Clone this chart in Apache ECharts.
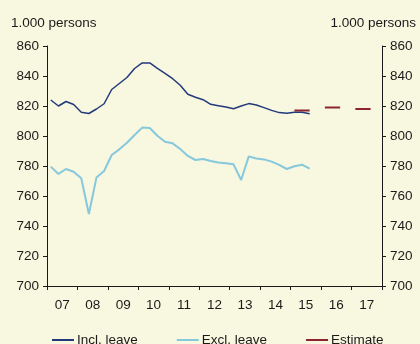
<!DOCTYPE html>
<html>
<head>
<meta charset="utf-8">
<script src="https://cdn.jsdelivr.net/npm/echarts@6/dist/echarts.min.js"></script>
<style>
  html, body { margin: 0; padding: 0; background: #f8f7e0; }
  #chart { width: 420px; height: 344px; }
</style>
</head>
<body>
<div id="chart"></div>
<script>
// years on the axis, data is quarterly from 2007Q1
var years = ['07', '08', '09', '10', '11', '12', '13', '14', '15', '16', '17']
var inclLeave = [824, 820, 823, 821, 815.8, 815, 818, 821.5, 831, 835, 839, 845, 848.7, 848.7,
  845.1, 841.8, 838.2, 833.8, 827.8, 825.8, 824.2, 821.1, 820.2, 819.3, 818.2, 820, 821.6,
  820.7, 818.9, 817.1, 815.6, 815.1, 815.8, 815.8, 814.9]
var exclLeave = [779.6, 774.7, 778, 776.2, 771.8, 748, 772.4, 776.7, 787.3, 791.1, 795.5, 800.7,
  805.6, 805.3, 800.2, 796.2, 795.1, 791.3, 786.7, 784, 784.7, 783.3, 782.4, 781.8, 781.1,
  770.7, 786.4, 785, 784.4, 782.9, 780.7, 778, 779.8, 780.9, 778.2]
// yearly estimates 2015-2017
var estimateYears = [2015, 2016, 2017]
var estimate = [817, 819, 818]

;(function () {
  var myChart = echarts.init(document.getElementById('chart'))

  var quarters = []
  years.forEach(function (y) {
    for (var q = 1; q <= 4; q++) quarters.push(y + 'Q' + q)
  })
  // estimate drawn over Q1-Q3 of each year, gap at Q4
  var estData = quarters.map(function () { return null })
  estimateYears.forEach(function (yr, k) {
    var start = (yr - 2007) * 4
    estData[start] = estimate[k]
    estData[start + 1] = estimate[k]
    estData[start + 2] = estimate[k]
  })

  var fam = 'Liberation Sans, Arial, sans-serif'
  var txtColor = '#1a1a1a'
  var fs = 13.5

  var yAxisBase = {
    type: 'value',
    min: 700,
    max: 860,
    interval: 20,
    splitLine: { show: false },
    axisLine: { show: true, lineStyle: { color: txtColor, width: 1 } },
    axisTick: { show: true, length: 4, lineStyle: { color: txtColor } },
    axisLabel: { color: txtColor, fontSize: fs, fontFamily: fam, margin: 8 }
  }

  var option = {
    backgroundColor: '#f8f7e0',
    animation: false,
    grid: { left: 47, right: 38, top: 46, bottom: 58 },
    graphic: [
      { type: 'text', left: 11, top: 16, style: { text: '1.000 persons', fill: txtColor, font: fs + 'px ' + fam } },
      { type: 'text', right: 4, top: 16, style: { text: '1.000 persons', fill: txtColor, font: fs + 'px ' + fam } }
    ],
    legend: {
      bottom: -8,
      left: 47,
      itemGap: 39,
      itemWidth: 22,
      itemHeight: 2,
      icon: 'rect',
      textStyle: { color: txtColor, fontSize: fs, fontFamily: fam, padding: [0, 0, 0, -2] },
      data: ['Incl. leave', 'Excl. leave', 'Estimate']
    },
    xAxis: [
      {
        type: 'category',
        data: quarters,
        boundaryGap: true,
        show: false
      },
      {
        type: 'category',
        data: years,
        boundaryGap: true,
        position: 'bottom',
        axisLine: { show: true, lineStyle: { color: txtColor, width: 1 } },
        axisTick: { show: true, length: 4, lineStyle: { color: txtColor } },
        axisLabel: { color: txtColor, fontSize: fs, fontFamily: fam, margin: 12 }
      }
    ],
    yAxis: [
      Object.assign({}, yAxisBase, { position: 'left' }),
      Object.assign({}, yAxisBase, { position: 'right' })
    ],
    series: [
      {
        name: 'Incl. leave',
        type: 'line',
        xAxisIndex: 0,
        data: inclLeave,
        symbol: 'none',
        color: '#23397a',
        lineStyle: { width: 1.5, color: '#23397a' }
      },
      {
        name: 'Excl. leave',
        type: 'line',
        xAxisIndex: 0,
        data: exclLeave,
        symbol: 'none',
        color: '#86c8dc',
        lineStyle: { width: 2, color: '#86c8dc' }
      },
      {
        name: 'Estimate',
        type: 'line',
        xAxisIndex: 0,
        data: estData,
        symbol: 'none',
        connectNulls: false,
        color: '#8e2431',
        lineStyle: { width: 2, color: '#8e2431' }
      }
    ]
  }

  myChart.setOption(option)
  window.addEventListener('resize', function () {
    myChart.resize()
  })
})()
</script>
</body>
</html>
